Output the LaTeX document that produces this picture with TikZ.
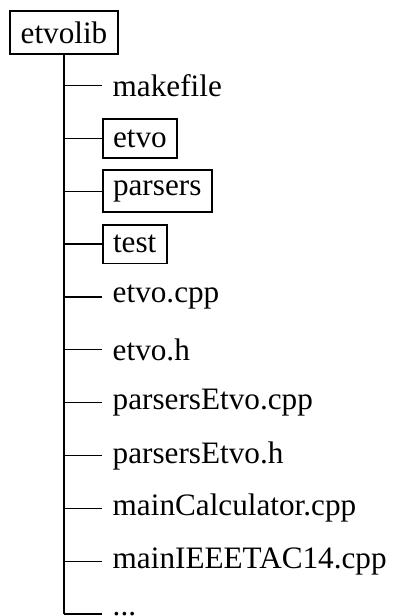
\documentclass[tikz,border=0pt]{standalone}
\usepackage{fontspec}
\setmainfont{Liberation Serif}
\begin{document}
\begin{tikzpicture}[x=0.3205pt,y=-0.3205pt,
  font=\fontsize{10}{12}\selectfont,
  dirbox/.style={draw,line width=0.6pt},
  leaf/.style={anchor=west},
  branch/.style={line width=0.4pt},
  trunk/.style={line width=0.7pt}]
\useasboundingbox (0,0) rectangle (395,616);
\clip (0,0) rectangle (395,616);
\node[dirbox] (root) at (64,32.7) {etvolib};
\node[leaf] (n0) at (101.7,85.5) {makefile};
\node[leaf,dirbox] (n1) at (101.7,138.4) {etvo};
\node[leaf,dirbox] (n2) at (101.7,191.2) {parsers};
\node[leaf,dirbox] (n3) at (101.7,244.1) {test};
\node[leaf] (n4) at (101.7,296.9) {etvo.cpp};
\node[leaf] (n5) at (101.7,349.8) {etvo.h};
\node[leaf] (n6) at (101.7,402.6) {parsersEtvo.cpp};
\node[leaf] (n7) at (101.7,455.5) {parsersEtvo.h};
\node[leaf] (n8) at (101.7,508.3) {mainCalculator.cpp};
\node[leaf] (n9) at (101.7,561.2) {mainIEEETAC14.cpp};
\node[leaf] (n10) at (101.7,614) {...};
\draw[trunk] (root.south) -- (root.south |- n10.west);
\foreach \i in {0,...,10}{
  \draw[branch] (root.south |- n\i.west) -- (n\i.west);
}
\end{tikzpicture}
\end{document}
